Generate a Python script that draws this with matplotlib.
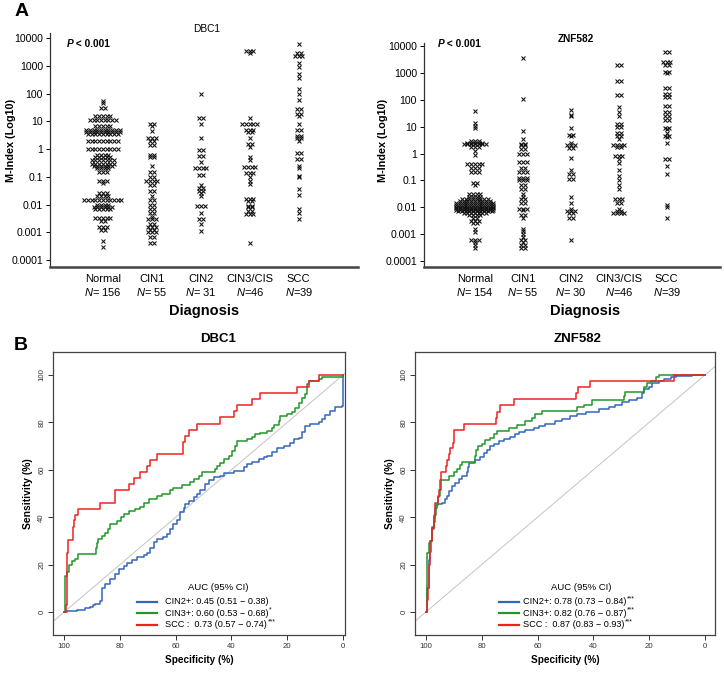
import numpy as np
import matplotlib
matplotlib.use("Agg")
import matplotlib.pyplot as plt
from matplotlib.lines import Line2D

plt.rcParams['font.family'] = ['Liberation Sans', 'DejaVu Sans']
plt.rcParams['mathtext.fontset'] = 'custom'
plt.rcParams['mathtext.rm'] = 'Liberation Sans'
plt.rcParams['mathtext.it'] = 'Liberation Sans:italic'
plt.rcParams['mathtext.bf'] = 'Liberation Sans:bold'

# ---------------- data: panel A (M-index levels and how many samples sit at each) ----
categories = ["Normal", "CIN1", "CIN2", "CIN3/CIS", "SCC"]
dbc1_n_labels = ["= 156", "= 55", "= 31", "=46", "=39"]
znf_n_labels = ["= 154", "= 55", "= 30", "=46", "=39"]
ytick_vals = [0.0001, 0.001, 0.01, 0.1, 1, 10, 100, 1000, 10000]
ytick_text = ["0.0001", "0.001", "0.01", "0.1", "1", "10", "100", "1000", "10000"]

dbc1_normal_lv = [55, 45, 30, 15, 11, 7, 5, 4, 3.5, 2, 1, 0.6, 0.5, 0.4, 0.3, 0.25, 0.2, 0.15, 0.07,
                  0.06, 0.025, 0.02, 0.014, 0.01, 0.008, 0.007, 0.0033, 0.0025, 0.0015, 0.0012,
                  0.0005, 0.0003]
dbc1_normal_ct = [1, 1, 2, 5, 8, 5, 10, 10, 9, 9, 9, 4, 5, 7, 7, 6, 4, 3, 3,
                  1, 3, 4, 11, 4, 6, 5, 5, 2, 3, 2, 1, 1]
dbc1_cin1_lv = [8, 7, 4.5, 2.5, 2, 1.4, 0.6, 0.5, 0.25, 0.15, 0.1, 0.07, 0.05, 0.03, 0.02, 0.015,
                0.01, 0.007, 0.005, 0.0035, 0.003, 0.002, 0.0015, 0.0012, 0.001, 0.0007, 0.0004]
dbc1_cin1_ct = [2, 1, 1, 3, 2, 2, 2, 2, 1, 2, 2, 4, 2, 2, 1, 2, 2, 2, 2, 1, 3, 2, 3, 2, 3, 2, 2]
dbc1_cin2_lv = [100, 13, 8, 2.5, 0.9, 0.55, 0.35, 0.2, 0.12, 0.05, 0.04, 0.03, 0.025, 0.02,
                0.009, 0.005, 0.003, 0.002, 0.0011]
dbc1_cin2_ct = [1, 2, 1, 1, 2, 2, 1, 4, 2, 1, 2, 2, 1, 1, 3, 1, 2, 1, 1]
dbc1_cin3_lv = [3500, 3000, 13, 8, 5, 4, 2.5, 1.5, 1.2, 0.5, 0.4, 0.23, 0.14, 0.1, 0.07, 0.055,
                0.016, 0.013, 0.009, 0.008, 0.006, 0.0045, 0.0004]
dbc1_cin3_ct = [3, 1, 1, 5, 3, 2, 1, 2, 1, 1, 1, 4, 3, 1, 1, 1, 3, 2, 2, 2, 2, 3, 1]
dbc1_scc_lv = [6000, 3000, 2300, 1300, 900, 500, 350, 150, 100, 60, 28, 18, 15, 8, 5, 3, 2.5, 2,
               0.7, 0.45, 0.25, 0.2, 0.11, 0.1, 0.035, 0.022, 0.007, 0.005, 0.003]
dbc1_scc_ct = [1, 2, 3, 1, 1, 1, 1, 1, 1, 1, 2, 2, 1, 1, 2, 2, 2, 1, 2, 2, 1, 1, 1, 1, 1, 1, 1, 1, 1]

znf_normal_lv = [38, 14, 11, 9, 3, 2.5, 2.2, 1.8, 1.2, 0.9, 0.4, 0.3, 0.2, 0.08, 0.065, 0.03,
                 0.025, 0.02, 0.017, 0.014, 0.012, 0.0105, 0.0092, 0.008, 0.007, 0.006, 0.005,
                 0.004, 0.003, 0.0025, 0.0015, 0.0012, 0.0006, 0.0005, 0.0004, 0.0003]
znf_normal_ct = [1, 1, 1, 1, 3, 5, 7, 3, 1, 1, 5, 3, 3, 2, 1, 4,
                 4, 8, 9, 11, 11, 11, 11, 11, 10, 7, 4, 2, 3, 2, 1, 1, 3, 1, 1, 1]
znf_cin1_lv = [3500, 110, 7, 3.5, 2.3, 2, 1.5, 1, 0.5, 0.3, 0.2, 0.12, 0.1, 0.07, 0.05, 0.03,
               0.025, 0.02, 0.015, 0.009, 0.008, 0.005, 0.004, 0.0016, 0.0013, 0.001, 0.0008,
               0.0006, 0.0005, 0.0004, 0.0003]
znf_cin1_ct = [1, 1, 1, 1, 2, 2, 2, 3, 3, 2, 3, 3, 3, 2, 2, 1, 1, 2, 2, 3, 1, 2, 1, 1, 1, 1, 1,
               2, 1, 2, 2]
znf_cin2_lv = [40, 28, 25, 9, 5, 4.5, 2.5, 2, 1.6, 0.7, 0.25, 0.17, 0.11, 0.025, 0.014, 0.009,
               0.007, 0.006, 0.004, 0.0006]
znf_cin2_ct = [1, 1, 1, 1, 2, 1, 1, 3, 2, 1, 1, 2, 2, 1, 1, 1, 3, 2, 2, 1]
znf_cin3_lv = [2000, 500, 150, 55, 35, 25, 13, 10, 6, 4.5, 3.5, 2, 1.7, 0.8, 0.6, 0.45, 0.25,
               0.15, 0.1, 0.065, 0.05, 0.02, 0.015, 0.009, 0.007, 0.006]
znf_cin3_ct = [2, 2, 2, 1, 1, 1, 2, 2, 2, 2, 1, 4, 2, 3, 1, 1, 1, 1, 1, 1, 1, 3, 2, 1, 2, 4]
znf_scc_lv = [6000, 2500, 2000, 1100, 1000, 270, 160, 130, 60, 35, 25, 18, 9, 8, 6, 4.5, 4, 2.5,
              0.65, 0.35, 0.18, 0.012, 0.01, 0.004]
znf_scc_ct = [2, 3, 2, 2, 1, 2, 2, 2, 2, 2, 2, 2, 2, 1, 1, 2, 1, 1, 2, 1, 1, 1, 1, 1]

# ---------------- data: panel B (ROC step points: specificity %, sensitivity %) ----
roc_dbc1_cin2 = [(100, 0), (99.0, 0.5), (95.5, 1), (92.5, 1.5), (90.7, 2), (89.5, 3), (88.9, 3.5),
                 (87.1, 4.5), (86.5, 10), (85.3, 12), (83.5, 14), (81.7, 16), (80.5, 18), (78.7, 19.5),
                 (77.5, 20.5), (75.7, 22), (73.9, 23), (71.5, 24), (70.3, 25), (69.1, 27), (67.9, 29.5),
                 (66.7, 31), (64.4, 31.5), (63.2, 33), (62.0, 35), (60.8, 37), (59.6, 39), (58.4, 42),
                 (57.2, 44), (56.6, 45.5), (55.4, 47), (53.6, 48.5), (52.4, 50), (51.2, 51.5),
                 (49.4, 54), (48.2, 55.5), (46.4, 57), (44.0, 57.5), (42.8, 58.5), (39.2, 59.5),
                 (35.6, 61), (34.4, 62.5), (32.7, 63.5), (30.3, 64.5), (28.5, 65.5), (27.3, 66),
                 (25.5, 67.5), (23.7, 69), (21.3, 70), (18.9, 71.5), (17.7, 73), (15.9, 73.5),
                 (14.7, 76), (13.5, 78.5), (11.7, 79.5), (8.7, 80), (7.5, 81.5), (6.3, 83), (4.5, 85),
                 (2.8, 86.5), (0.4, 87), (0, 100)]
roc_dbc1_cin3 = [(100, 0), (99.6, 15), (99.0, 17), (98.1, 20), (97.3, 21.5), (96.1, 22.5), (94.9, 24.4),
                 (88.5, 27), (88.3, 29), (87.7, 31), (86.5, 32), (85.3, 33.5), (84.4, 35), (83.5, 37),
                 (80.9, 38.5), (79.7, 40), (78.7, 41.5), (76.9, 42.5), (74.5, 43.5), (72.7, 44.5),
                 (71.5, 46), (69.7, 47.5), (66.7, 49), (65.0, 50), (62.0, 51.5), (60.8, 52.5),
                 (57.8, 53.5), (54.8, 55), (53.6, 56), (51.8, 57.5), (50.6, 59), (45.8, 60.5),
                 (45.2, 61.5), (44.0, 63), (42.8, 64.5), (41.0, 66), (39.8, 68), (38.6, 70), (38.0, 72),
                 (34.4, 73), (32.7, 74), (31.5, 75), (29.7, 75.5), (27.3, 76.5), (25.5, 77.5),
                 (24.9, 79), (23.1, 80.5), (22.5, 82.5), (20.1, 83.5), (18.3, 84.5), (17.1, 86),
                 (15.9, 88), (14.7, 90.5), (13.5, 92), (12.9, 96), (12.3, 97.5), (8.7, 98.5), (7.5, 99),
                 (0, 100)]
roc_dbc1_scc = [(100, 0), (99.5, 3), (99, 25), (98.5, 30.5), (97, 36), (96.5, 39), (96, 41), (95, 43.6),
                (87.1, 46.2), (81.9, 51.3), (76.9, 53.8), (75.1, 56.4), (72.7, 59), (70.3, 61.5),
                (69.1, 64.1), (66.7, 66.7), (57.4, 71.8), (56.8, 74.4), (55.4, 76.9), (52.4, 79.5),
                (44, 82.1), (39.2, 84.6), (38, 87.2), (32.7, 89.7), (29.7, 92.3), (16.5, 94.9),
                (12.3, 97.4), (8.7, 100), (0, 100)]
roc_znf_cin2 = [(100, 0), (99.6, 10), (99.0, 22), (98.4, 30), (97.8, 35), (97.2, 40), (96.7, 44),
                (96.1, 45.5), (94.3, 46), (93.1, 47.5), (92.5, 49), (91.6, 51), (90.7, 53), (89.5, 54.5),
                (88.3, 56), (87.1, 57.5), (85.3, 59), (84.9, 61), (84.7, 63), (82.3, 64), (80.5, 65.5),
                (79.3, 67), (78.1, 68.5), (76.9, 70), (75.7, 71), (73.9, 72), (72.1, 73), (69.7, 74),
                (67.9, 75), (66.7, 76), (64.4, 77), (61.4, 77.5), (59.6, 78.5), (57.2, 79.5),
                (53.6, 80.5), (51.2, 81.5), (48.2, 82.5), (45.8, 83.5), (42.8, 84.5), (38.0, 85.5),
                (34.4, 86.5), (32.1, 87.5), (29.7, 88.5), (27.3, 89.5), (24.3, 90.5), (22.7, 92.5),
                (21.9, 94), (20.1, 95), (18.9, 96.5), (16.5, 97.5), (14.7, 98.5), (12.3, 99),
                (10.5, 99.5), (4.5, 100), (0, 100)]
roc_znf_cin3 = [(100, 0), (99.6, 25), (99.0, 29), (98.4, 30), (97.8, 36), (97.2, 41), (96.4, 45),
                (95.7, 49), (95.1, 55.5), (91.6, 57.5), (90.1, 59), (88.9, 60.5), (87.7, 62), (87.1, 63.5),
                (82.5, 66), (82.1, 68.5), (81.3, 70), (79.9, 71), (78.7, 72.5), (76.9, 73.5), (75.7, 75),
                (74.5, 76.5), (70.3, 77.5), (67.3, 79), (64.4, 80.5), (62.0, 82), (60.8, 83.5),
                (58.4, 85), (45.8, 86.5), (43.4, 87.5), (40.4, 89.5), (29.1, 91), (28.5, 93),
                (21.9, 95), (20.7, 96.5), (19.5, 97.5), (17.7, 99), (16.5, 100), (0, 100)]
roc_znf_scc = [(100, 0), (99.6, 5), (99.4, 10), (99.0, 20), (98.7, 25.5), (98.2, 30), (97.8, 35.5),
               (97.2, 38), (96.9, 41), (96.7, 46), (95.7, 48.5), (95.2, 51.5), (94.7, 55.5), (94.5, 59),
               (92.8, 61.5), (92.5, 64), (91.6, 66.5), (91.3, 69), (90.4, 71.5), (90.1, 74), (89.8, 77),
               (86.2, 79.5), (74.9, 82), (74.5, 84.5), (73.3, 87.2), (68.3, 89.7), (46.1, 92.3),
               (45.5, 94.9), (41.3, 97.4), (11.1, 100), (0, 100)]

dbc1_auc_labels = ["CIN2+: 0.45 (0.51 \u2212 0.38)",
                   "CIN3+: 0.60 (0.53 \u2212 0.68)",
                   "SCC :  0.73 (0.57 \u2212 0.74)"]
dbc1_auc_stars = ["", "*", "***"]
znf_auc_labels = ["CIN2+: 0.78 (0.73 \u2212 0.84)",
                  "CIN3+: 0.82 (0.76 \u2212 0.87)",
                  "SCC :  0.87 (0.83 \u2212 0.93)"]
znf_auc_stars = ["***", "***", "***"]

C_BLUE, C_GREEN, C_RED = "#3366bb", "#22962a", "#ee2222"

W, H = 724, 675
fig = plt.figure(figsize=(W / 100, H / 100), dpi=100)


def fbox(l, t, r, b):
    return [l / W, 1 - b / H, (r - l) / W, (b - t) / H]


def row_x(ax, xc, levels, counts, pitch):
    """Spread samples sharing a level into a centred horizontal row (dot-plot layout)."""
    xs, ys = [], []
    x0 = ax.transData.transform((xc, 1.0))[0]
    inv = ax.transData.inverted()
    for lv, ct in zip(levels, counts):
        ypix = ax.transData.transform((xc, lv))[1]
        for i in range(ct):
            off = (i - (ct - 1) / 2.0) * pitch
            xs.append(inv.transform((x0 + off, ypix))[0])
            ys.append(lv)
    return np.array(xs), np.array(ys)


def scatter_panel(box, ylims, xlims, groups, nlabels, title, title_xy, title_bold, p_xy, ylab_x, diag_x):
    ax = fig.add_axes(fbox(*box))
    ax.set_yscale("log")
    ax.set_ylim(*ylims)
    ax.set_xlim(*xlims)
    for s in ["top", "right"]:
        ax.spines[s].set_visible(False)
    ax.spines["left"].set_linewidth(0.9)
    ax.spines["left"].set_color("#333333")
    ax.spines["bottom"].set_linewidth(1.8)
    ax.spines["bottom"].set_color("#444444")
    ax.set_yticks(ytick_vals)
    ax.set_yticklabels(ytick_text, fontsize=7.6)
    ax.yaxis.set_minor_locator(matplotlib.ticker.NullLocator())
    ax.tick_params(axis="y", length=3, width=0.7, pad=2)
    ax.set_xticks(range(len(categories)))
    ax.set_xticklabels([f"{c}\n$\\mathit{{N}}${n}" for c, n in zip(categories, nlabels)],
                       fontsize=8, linespacing=1.25)
    ax.tick_params(axis="x", length=0, pad=5)
    for k, (lv, ct) in enumerate(groups):
        xs, vals = row_x(ax, k, lv, ct, 3.7)
        ax.plot(xs, vals, linestyle="none", marker="x", markersize=3.3, markeredgewidth=0.75,
                color="#111111", clip_on=False)
    fig.text(title_xy[0] / W, 1 - title_xy[1] / H, title, fontsize=7.3,
             fontweight="bold" if title_bold else "normal", ha="center", va="center")
    fig.text(p_xy[0] / W, 1 - p_xy[1] / H, "P", fontsize=7.3, fontweight="bold", style="italic",
             ha="left", va="center")
    fig.text((p_xy[0] + 6) / W, 1 - p_xy[1] / H, " < 0.001", fontsize=7.3, fontweight="bold",
             ha="left", va="center")
    fig.text(ylab_x / W, 1 - 140 / H, "M-Index (Log10)", fontsize=7.8, fontweight="bold",
             rotation=90, ha="center", va="center")
    fig.text(diag_x / W, 1 - 311 / H, "Diagnosis", fontsize=10.5, fontweight="bold",
             ha="center", va="center")
    return ax


scatter_panel((50, 33, 358, 267), (10 ** -4.25, 10 ** 4.18), (-1.08, 5.21),
              [(dbc1_normal_lv, dbc1_normal_ct), (dbc1_cin1_lv, dbc1_cin1_ct),
               (dbc1_cin2_lv, dbc1_cin2_ct), (dbc1_cin3_lv, dbc1_cin3_ct),
               (dbc1_scc_lv, dbc1_scc_ct)],
              dbc1_n_labels, "DBC1", (207, 29), False, (67, 44), 11, 204)
scatter_panel((424, 43, 720, 267), (10 ** -4.22, 10 ** 4.11), (-1.06, 5.11),
              [(znf_normal_lv, znf_normal_ct), (znf_cin1_lv, znf_cin1_ct),
               (znf_cin2_lv, znf_cin2_ct), (znf_cin3_lv, znf_cin3_ct),
               (znf_scc_lv, znf_scc_ct)],
              znf_n_labels, "ZNF582", (576, 39), True, (438, 44), 383, 585)


def roc_panel(box, xlims, curves, labels, stars, title, title_x, leg):
    ax = fig.add_axes(fbox(*box))
    ax.set_xlim(*xlims)
    ax.set_ylim(-9.7, 109.7)
    for s in ax.spines.values():
        s.set_linewidth(0.9)
        s.set_color("#444444")
    ax.axline((100, 0), (0, 100), color="#c4c4c4", lw=0.7, zorder=1)
    cols = [C_BLUE, C_GREEN, C_RED]
    for pts, col in zip(curves, cols):
        sp = [p[0] for p in pts]
        se = [p[1] for p in pts]
        ax.plot(sp, se, drawstyle="steps-post", color=col, lw=1.1, zorder=2)
    ax.set_xticks([100, 80, 60, 40, 20, 0])
    ax.set_yticks([0, 20, 40, 60, 80, 100])
    ax.tick_params(labelsize=5.6, length=3.5, width=0.7, colors="#333333", pad=2)
    for t in ax.get_yticklabels():
        t.set_rotation(90)
        t.set_va("center")
    ax.set_xlabel("Specificity (%)", fontsize=7.2, fontweight="bold", labelpad=4)
    ax.set_ylabel("Sensitivity (%)", fontsize=7.4, fontweight="bold", labelpad=4)
    fig.text(title_x / W, 1 - 339 / H, title, fontsize=9.5, fontweight="bold", ha="center", va="center")
    # legend drawn in figure pixels: (title centre x, title y, line x0, line x1, text x, first row y, row step)
    tcx, ty, lx0, lx1, tx, ry, dy = leg
    fig.text(tcx / W, 1 - ty / H, "AUC (95% CI)", fontsize=6.8, ha="center", va="center")
    for i, (lab, st, col) in enumerate(zip(labels, stars, cols)):
        y = ry + i * dy
        fig.add_artist(Line2D([lx0 / W, lx1 / W], [1 - y / H, 1 - y / H], color=col, lw=1.6,
                              transform=fig.transFigure))
        t = fig.text(tx / W, 1 - (y + 2.5) / H, lab, fontsize=6.6, ha="left", va="baseline")
        if st:
            fig.text(0, 0, st, fontsize=4.8, ha="left", va="bottom")  # placeholder replaced below
            fig.texts.pop()
            ann = fig.add_artist(matplotlib.text.Annotation(
                st, xy=(1.0, 0.45), xycoords=t, xytext=(0.6, 0), textcoords="offset points",
                fontsize=4.8, ha="left", va="bottom"))
    return ax


roc_panel((53, 352, 345, 635), (104, -0.7), [roc_dbc1_cin2, roc_dbc1_cin3, roc_dbc1_scc],
          dbc1_auc_labels, dbc1_auc_stars, "DBC1", 218, (218, 588, 137, 157, 165, 601.5, 11.5))
roc_panel((415, 352, 715, 635), (103.9, -3.6), [roc_znf_cin2, roc_znf_cin3, roc_znf_scc],
          znf_auc_labels, znf_auc_stars, "ZNF582", 578, (581, 588, 499, 519, 523, 601.5, 11.5))

fig.text(15 / W, 1 - 12 / H, "A", fontsize=14, fontweight="bold", ha="left", va="center")
fig.text(14 / W, 1 - 345 / H, "B", fontsize=14, fontweight="bold", ha="left", va="center")

fig.savefig("out.png", dpi=100)
